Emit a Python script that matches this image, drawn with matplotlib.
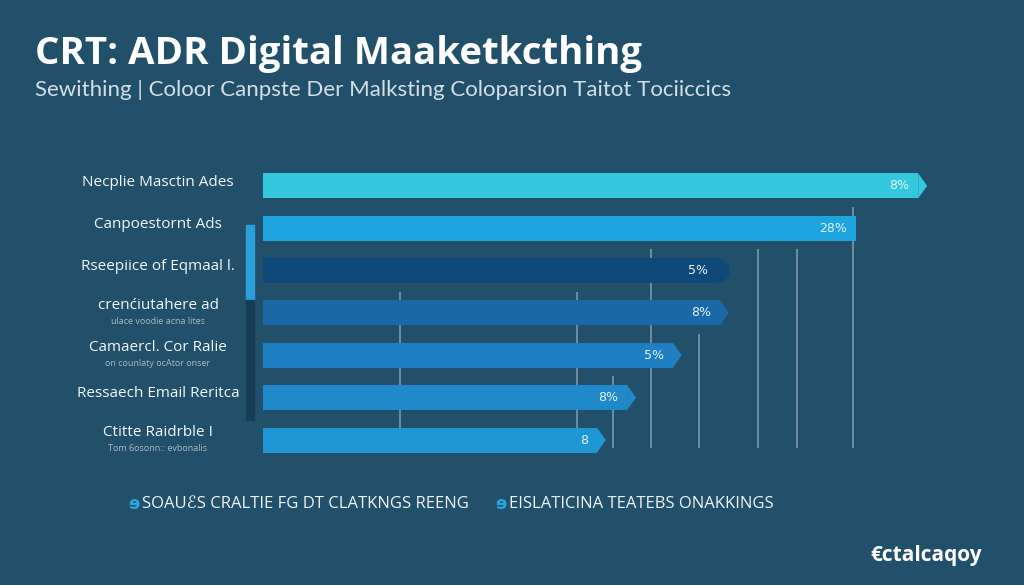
import matplotlib
matplotlib.use("Agg")
import matplotlib.pyplot as plt
from matplotlib.patches import Rectangle, Ellipse

# chart values
categories = ["Necplie Masctin Ades", "Canpoestornt Ads", "Rseepiice of Eqmaal l.",
              "crenćiutahere ad", "Camaercl. Cor Ralie", "Ressaech Email Reritca",
              "Ctitte Raidrble I"]
sublabels = ["", "", "", "ulace voodie acna lites", "on counlaty ocAtor onser", "",
             "Tom 6osonn:: evbonalis"]
values = [88.9, 80.5, 61.6, 62.0, 55.6, 49.4, 45.3]
value_labels = ["8%", "28%", "5%", "8%", "5%", "8%", "8"]
bar_colors = ["#34c8de", "#1ea5df", "#0e497a", "#1a69a6", "#1e80c2", "#1f89ca", "#1f97d5"]
end_style = ["arrow", "flat", "round", "arrow", "arrow", "arrow", "arrow"]
grid_x = [18.6, 42.6, 47.5, 52.6, 59.2, 67.2, 72.5, 80.1]
grid_top = [2.5, 2.5, 4.5, 1.5, 3.5, 1.5, 1.5, 0.5]

title = "CRT: ADR Digital Maaketkcthing"
subtitle = "Sewithing | Coloor Canpste Der Malksting Coloparsion Taitot Tociiccics"
legend_items = ["SOAUℰS CRALTIE FG DT CLATKNGS REENG", "EISLATICINA TEATEBS ONAKKINGS"]
brand = "€ctalcaqoy"

BG = "#22506a"
W, H = 1024, 585
FAM = ["Open Sans", "DejaVu Sans"]

fig = plt.figure(figsize=(W / 100, H / 100), dpi=100, facecolor=BG)

# axes placed in pixel terms
left, right, top, bottom = 263, 1000, 160, 465
ax = fig.add_axes([left / W, 1 - bottom / H, (right - left) / W, (bottom - top) / H])
ax.set_facecolor(BG)
ax.set_xlim(0, 100)
ax.set_ylim(6.59, -0.61)
ax.axis("off")

px_x = (right - left) / 100.0
px_y = (bottom - top) / 7.2
bar_h = 0.59
tip = 9 / px_x

ypos = list(range(len(categories)))

# gridlines behind the bars
for gx, gt in zip(grid_x, grid_top):
    ax.vlines(gx, gt, 6.2, color="#8fa9b8", lw=1.3, alpha=0.75, zorder=1)

ax.barh(ypos, values, height=bar_h, color=bar_colors, zorder=3)

for y, v, c, s in zip(ypos, values, bar_colors, end_style):
    if s == "arrow":
        ax.fill([v, v + tip, v], [y - bar_h / 2, y, y + bar_h / 2], color=c, zorder=3, lw=0)
    elif s == "round":
        r = (bar_h / 2) * px_y / px_x
        ax.add_patch(Ellipse((v, y), 2 * r, bar_h, color=c, zorder=3, lw=0))

for y, v, t in zip(ypos, values, value_labels):
    ax.text(v - 1.2, y, t, ha="right", va="center", color="#e6f3f8",
            fontsize=9, family="DejaVu Sans", zorder=4)

# category labels at the left
label_cx = 158 / W
for y, name, sub in zip(ypos, categories, sublabels):
    ypix = 186 + y * px_y
    if sub:
        fig.text(label_cx, 1 - (ypix - 8) / H, name, ha="center", va="center",
                 color="#f2f6f8", fontsize=11, family=FAM)
        fig.text(label_cx, 1 - (ypix + 8) / H, sub, ha="center", va="center",
                 color="#a6bac6", fontsize=6.5, family=FAM)
    else:
        fig.text(label_cx, 1 - (ypix - 4) / H, name, ha="center", va="center",
                 color="#f2f6f8", fontsize=11, family=FAM)

# scroll-like indicator between labels and bars
fig.patches.append(Rectangle((246 / W, 1 - 300 / H), 8 / W, 75 / H,
                             transform=fig.transFigure, color="#2a9fd8", zorder=2))
fig.patches.append(Rectangle((246 / W, 1 - 420 / H), 8 / W, 120 / H,
                             transform=fig.transFigure, color="#163c56", zorder=2))

# title and subtitle
fig.text(35 / W, 1 - 64 / H, title, ha="left", va="baseline", color="white",
         fontsize=27.6, fontweight="bold", family=FAM)
fig.text(35 / W, 1 - 96 / H, subtitle, ha="left", va="baseline", color="#d3dee6",
         fontsize=16, fontweight="normal", family=["Lato", "DejaVu Sans"])

# legend row
for x0, item in zip([128, 495], legend_items):
    fig.text(x0 / W, 1 - 504 / H, "ɘ", ha="left", va="center", color="#2aa6df",
             fontsize=12, fontweight="bold", family="DejaVu Sans")
    fig.text((x0 + 14) / W, 1 - 504 / H, item, ha="left", va="center",
             color="#eef3f6", fontsize=12, family=FAM)

fig.text(870 / W, 1 - 556 / H, brand, ha="left", va="center", color="white",
         fontsize=15, fontweight="bold", family=FAM)

fig.savefig("out.png", dpi=100, facecolor=BG)
